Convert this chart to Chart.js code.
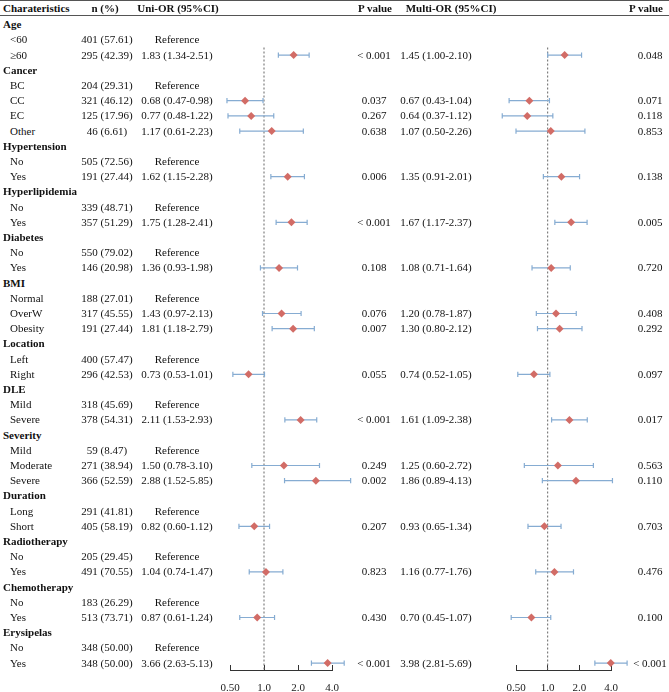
<!DOCTYPE html>
<html><head><meta charset="utf-8">
<script src="https://cdn.jsdelivr.net/npm/chart.js@4.4.1/dist/chart.umd.min.js"></script>
<style>
html,body{margin:0;padding:0;background:#fff;overflow:hidden;}
#wrap{position:relative;width:669px;height:692px;font-family:"Liberation Serif","Times New Roman",serif;font-size:11px;color:#111;}
.t{position:absolute;height:15px;line-height:15px;white-space:nowrap;}
.c{width:140px;text-align:center;}
.b{font-weight:bold;}
.hr{position:absolute;left:0;width:669px;height:0;border-top:1px solid #555;}
canvas{position:absolute;top:0;}
</style></head><body>
<div id="wrap">
  <div class="hr" style="top:0px"></div>
  <div class="hr" style="top:15px"></div>
  <canvas id="c1" width="170" height="730" style="left:195px;width:170px;height:730px"></canvas>
  <canvas id="c2" width="160" height="730" style="left:480px;width:160px;height:730px"></canvas>
</div>
<script>
// ---------- data ----------
const headerTexts = ['Charateristics', 'n (%)', 'Uni-OR (95%CI)', 'P value', 'Multi-OR (95%CI)', 'P value'];

const rowLabels = ['Age','<60','≥60','Cancer','BC','CC','EC','Other','Hypertension','No','Yes',
  'Hyperlipidemia','No','Yes','Diabetes','No','Yes','BMI','Normal','OverW','Obesity',
  'Location','Left','Right','DLE','Mild','Severe','Severity','Mild','Moderate','Severe',
  'Duration','Long','Short','Radiotherapy','No','Yes','Chemotherapy','No','Yes','Erysipelas','No','Yes'];

const rowIsGroup = [1,0,0,1,0,0,0,0,1,0,0, 1,0,0,1,0,0,1,0,0,0, 1,0,0,1,0,0,1,0,0,0, 1,0,0,1,0,0,1,0,0,1,0,0];

const nPct = ['','401 (57.61)','295 (42.39)','','204 (29.31)','321 (46.12)','125 (17.96)','46 (6.61)','','505 (72.56)','191 (27.44)',
  '','339 (48.71)','357 (51.29)','','550 (79.02)','146 (20.98)','','188 (27.01)','317 (45.55)','191 (27.44)',
  '','400 (57.47)','296 (42.53)','','318 (45.69)','378 (54.31)','','59 (8.47)','271 (38.94)','366 (52.59)',
  '','291 (41.81)','405 (58.19)','','205 (29.45)','491 (70.55)','','183 (26.29)','513 (73.71)','','348 (50.00)','348 (50.00)'];

const N = null;
const uniOR = [N,N,1.83, N,N,0.68,0.77,1.17, N,N,1.62, N,N,1.75, N,N,1.36, N,N,1.43,1.81, N,N,0.73, N,N,2.11, N,N,1.50,2.88, N,N,0.82, N,N,1.04, N,N,0.87, N,N,3.66];
const uniLo = [N,N,1.34, N,N,0.47,0.48,0.61, N,N,1.15, N,N,1.28, N,N,0.93, N,N,0.97,1.18, N,N,0.53, N,N,1.53, N,N,0.78,1.52, N,N,0.60, N,N,0.74, N,N,0.61, N,N,2.63];
const uniHi = [N,N,2.51, N,N,0.98,1.22,2.23, N,N,2.28, N,N,2.41, N,N,1.98, N,N,2.13,2.79, N,N,1.01, N,N,2.93, N,N,3.10,5.85, N,N,1.12, N,N,1.47, N,N,1.24, N,N,5.13];
const uniP  = ['','','< 0.001', '','','0.037','0.267','0.638', '','','0.006', '','','< 0.001', '','','0.108', '','','0.076','0.007', '','','0.055', '','','< 0.001', '','','0.249','0.002', '','','0.207', '','','0.823', '','','0.430', '','','< 0.001'];

const multiOR = [N,N,1.45, N,N,0.67,0.64,1.07, N,N,1.35, N,N,1.67, N,N,1.08, N,N,1.20,1.30, N,N,0.74, N,N,1.61, N,N,1.25,1.86, N,N,0.93, N,N,1.16, N,N,0.70, N,N,3.98];
const multiLo = [N,N,1.00, N,N,0.43,0.37,0.50, N,N,0.91, N,N,1.17, N,N,0.71, N,N,0.78,0.80, N,N,0.52, N,N,1.09, N,N,0.60,0.89, N,N,0.65, N,N,0.77, N,N,0.45, N,N,2.81];
const multiHi = [N,N,2.10, N,N,1.04,1.12,2.26, N,N,2.01, N,N,2.37, N,N,1.64, N,N,1.87,2.12, N,N,1.05, N,N,2.38, N,N,2.72,4.13, N,N,1.34, N,N,1.76, N,N,1.07, N,N,5.69];
const multiP  = ['','','0.048', '','','0.071','0.118','0.853', '','','0.138', '','','0.005', '','','0.720', '','','0.408','0.292', '','','0.097', '','','0.017', '','','0.563','0.110', '','','0.703', '','','0.476', '','','0.100', '','','< 0.001'];

const tickVals = [0.5, 1, 2, 4];
const tickLabels = ['0.50', '1.0', '2.0', '4.0'];
const refOR = 1;
const refLineStartRow = 2.5;

// ---------- layout / style ----------
const ROW0 = 9.5, ROWH = 15.2, HEADER_Y = 8.5, AXIS_Y = 670;
const CAP = 0.17; // cap half-height in row units
const CI_COLOR = '#86acd2', PT_COLOR = '#d26c66';
const wrap = document.getElementById('wrap');

function addText(txt, y, opt) {
  const d = document.createElement('div');
  d.className = 't' + (opt.center != null ? ' c' : '') + (opt.bold ? ' b' : '');
  d.textContent = txt;
  d.style.top = (y - 7.5) + 'px';
  d.style.left = (opt.center != null ? opt.center - 70 : opt.left) + 'px';
  wrap.appendChild(d);
}

function fmtCI(o, l, h) { return o.toFixed(2) + ' (' + l.toFixed(2) + '-' + h.toFixed(2) + ')'; }

// header
addText(headerTexts[0], HEADER_Y, {left: 3, bold: true});
addText(headerTexts[1], HEADER_Y, {center: 105, bold: true});
addText(headerTexts[2], HEADER_Y, {center: 178, bold: true});
addText(headerTexts[3], HEADER_Y, {center: 375, bold: true});
addText(headerTexts[4], HEADER_Y, {center: 451, bold: true});
addText(headerTexts[5], HEADER_Y, {center: 646, bold: true});

rowLabels.forEach((lab, k) => {
  const y = ROW0 + (k + 1) * ROWH;
  if (rowIsGroup[k]) { addText(lab, y, {left: 3, bold: true}); return; }
  addText(lab, y, {left: 10});
  addText(nPct[k], y, {center: 107});
  addText(uniOR[k] == null ? 'Reference' : fmtCI(uniOR[k], uniLo[k], uniHi[k]), y, {center: 177});
  if (uniP[k]) addText(uniP[k], y, {center: 374});
  if (multiOR[k] != null) addText(fmtCI(multiOR[k], multiLo[k], multiHi[k]), y, {center: 436});
  if (multiP[k]) addText(multiP[k], y, {center: 650});
});

// ---------- forest plots ----------
function makeForest(id, est, lo, hi, padL, padR) {
  const datasets = [];
  const pts = [];
  est.forEach((v, k) => { if (v != null) pts.push({x: v, y: k + 1}); });
  datasets.push({data: pts, pointStyle: 'rectRot', pointRadius: 4, backgroundColor: PT_COLOR,
    borderColor: PT_COLOR, borderWidth: 0, clip: false, order: 0});
  est.forEach((v, k) => {
    if (v == null) return;
    const r = k + 1;
    // whisker path: upper cap, line, lower cap (x descending so every vertex is drawn)
    datasets.push({showLine: true, pointRadius: 0,
      data: [{x: hi[k], y: r - CAP}, {x: hi[k], y: r + CAP}, {x: hi[k], y: r},
             {x: lo[k], y: r}, {x: lo[k], y: r - CAP}, {x: lo[k], y: r + CAP}],
      borderColor: CI_COLOR, borderWidth: 1.2, clip: false, order: 1});
  });
  const refSet = {showLine: true, data: [{x: refOR, y: refLineStartRow}, {x: refOR, y: refLineStartRow}],
    borderColor: '#666', borderWidth: 1, borderDash: [2, 2], pointRadius: 0, clip: false, order: 2};
  datasets.push(refSet);

  const chart = new Chart(document.getElementById(id), {
    type: 'scatter',
    data: {datasets},
    options: {
      responsive: false, animation: false, events: [],
      layout: {padding: {left: padL, right: padR, top: 0, bottom: 0}},
      plugins: {legend: {display: false}, tooltip: {enabled: false}},
      scales: {
        x: {type: 'logarithmic', position: 'bottom', min: tickVals[0], max: tickVals[tickVals.length - 1], bounds: 'data',
          afterBuildTicks: ax => { ax.ticks = tickVals.map(v => ({value: v})); },
          ticks: {autoSkip: false, maxRotation: 0, padding: 17, color: '#222',
            font: {family: 'Liberation Serif', size: 11}, callback: (v, i) => tickLabels[i]},
          grid: {drawOnChartArea: false, drawTicks: true, tickLength: -5, color: '#333', lineWidth: 1},
          border: {display: true, color: '#333', width: 1}},
        y: {type: 'linear', display: false, reverse: true, min: 0, max: 44}
      }
    }
  });
  // calibrate: axis line at AXIS_Y, rows at ROW0 + i*ROWH
  let padB = 0;
  for (let it = 0; it < 6; it++) {
    const d = chart.chartArea.bottom - AXIS_Y;
    if (Math.abs(d) < 0.05) break;
    padB = Math.max(0, padB + d);
    chart.options.layout.padding = {left: padL, right: padR, top: 0, bottom: padB};
    chart.update('none');
  }
  const ca = chart.chartArea;
  const yMin = (ca.top - ROW0) / ROWH, yMax = (ca.bottom - ROW0) / ROWH;
  chart.options.scales.y.min = yMin;
  chart.options.scales.y.max = yMax;
  refSet.data[1].y = yMax;
  chart.update('none');
  return chart;
}

makeForest('c1', uniOR, uniLo, uniHi, 35, 33);
makeForest('c2', multiOR, multiLo, multiHi, 36, 29);
</script>
</body></html>
